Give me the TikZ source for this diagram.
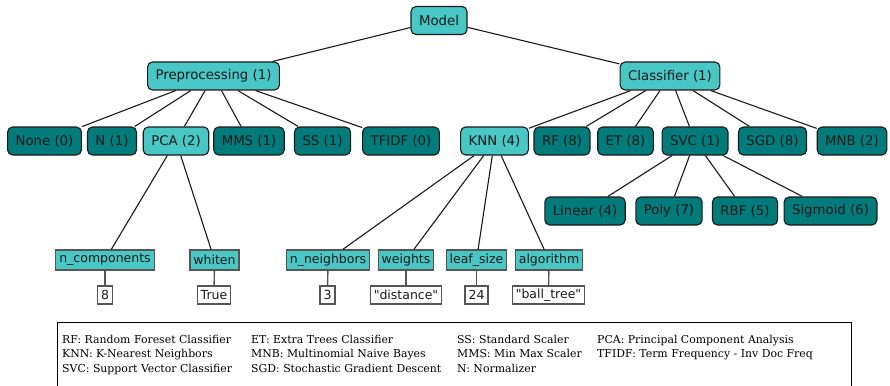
\documentclass[tikz,border=0pt]{standalone}
\usepackage{fontspec}
\setmainfont{DejaVu Serif}
\setsansfont{DejaVu Sans}
\usetikzlibrary{positioning}
\definecolor{lightteal}{HTML}{48C7C5}
\definecolor{darkteal}{HTML}{037B7B}
\definecolor{inkgrey}{HTML}{1A1A1A}
\definecolor{stemgrey}{HTML}{555555}

\begin{document}
\begin{tikzpicture}[x=1pt, y=-1pt,
    open/.style={draw=inkgrey, fill=lightteal, rounded corners=5pt, line width=1.1pt,
                 minimum height=28pt, inner xsep=8pt, text=inkgrey,
                 font=\sffamily\fontsize{13.3}{14}\selectfont},
    closed/.style={open, fill=darkteal},
    param/.style={draw=stemgrey, fill=lightteal, line width=1.2pt, minimum height=20pt,
                  inner xsep=3.5pt, inner ysep=0pt, text=inkgrey,
                  font=\sffamily\fontsize{12.5}{13}\selectfont},
    value/.style={param, fill=white, minimum height=18pt},
    link/.style={line width=1.1pt, inkgrey},
    stem/.style={line width=1.4pt, stemgrey},
    legend/.style={anchor=base west, inner sep=0pt, font=\fontsize{10.9}{12}\selectfont}]
      \useasboundingbox (0, 0) rectangle (890, 385);
      % tree
      \node (model) [open] at (439, 20.5) {Model};
      \node (prep) [open] at (213.5, 76) {Preprocessing (1)};
      \node (clf) [open] at (670, 76) {Classifier (1)};
      \node (none) [closed] at (44.5, 141) {None (0)};
      \node (norm) [closed] at (112, 141) {N (1)};
      \node (pca) [open] at (176, 141) {PCA (2)};
      \node (mms) [closed] at (249, 141) {MMS (1)};
      \node (ss) [closed] at (322.5, 141) {SS (1)};
      \node (tfidf) [closed] at (401, 141) {TFIDF (0)};
      \node (knn) [open] at (494.5, 141) {KNN (4)};
      \node (rf) [closed] at (562, 141) {RF (8)};
      \node (et) [closed] at (625.5, 141) {ET (8)};
      \node (svc) [closed] at (695, 141) {SVC (1)};
      \node (sgd) [closed] at (772.5, 141) {SGD (8)};
      \node (mnb) [closed] at (852, 141) {MNB (2)};
      \node (linear) [closed] at (585, 211) {Linear (4)};
      \node (poly) [closed] at (669, 211) {Poly (7)};
      \node (rbf) [closed] at (745, 211) {RBF (5)};
      \node (sigmoid) [closed] at (830.5, 211) {Sigmoid (6)};
      % hyper parameters
      \node (ncomp) [param] at (105, 260) {n\_components};
      \node (whiten) [param] at (214.5, 260) {whiten};
      \node (nneigh) [param] at (328, 260) {n\_neighbors};
      \node (weights) [param] at (406, 260) {weights};
      \node (leaf) [param] at (476.5, 260) {leaf\_size};
      \node (algo) [param] at (549, 260) {algorithm};
      \node (ncompval) [value] at (105, 295) {8};
      \node (whitenval) [value] at (214, 295) {True};
      \node (nneighval) [value] at (327.5, 295) {3};
      \node (weightsval) [value] at (406, 295) {\textquotedbl distance\textquotedbl};
      \node (leafval) [value] at (476.5, 295) {24};
      \node (algoval) [value] at (548.5, 295) {\textquotedbl ball\_tree\textquotedbl};
      \draw [link] (model) -- (prep)  (model) -- (clf);
      \foreach \kid in {none, norm, pca, mms, ss, tfidf}
            \draw [link] (prep) -- (\kid);
      \foreach \kid in {knn, rf, et, svc, sgd, mnb}
            \draw [link] (clf) -- (\kid);
      \foreach \kid in {linear, poly, rbf, sigmoid}
            \draw [link] (svc) -- (\kid);
      \draw [link] (pca) -- (ncomp)  (pca) -- (whiten);
      \foreach \kid in {nneigh, weights, leaf, algo}
            \draw [link] (knn) -- (\kid);
      \foreach \p in {ncomp, whiten, nneigh, weights, leaf, algo}
            \draw [stem] (\p) -- (\p val);
      % legend
      \draw [line width=0.9pt] (57, 386) -- (57, 322) -- (851, 322) -- (851, 386);
      \node (rfkey) [legend] at (62, 343) {RF: Random Foreset Classifier};
      \node (knnkey) [legend] at (62, 357.5) {KNN: K-Nearest Neighbors};
      \node (svckey) [legend] at (62, 372) {SVC: Support Vector Classifier};
      \node (etkey) [legend] at (251, 343) {ET: Extra Trees Classifier};
      \node (mnbkey) [legend] at (251, 357.5) {MNB: Multinomial Naive Bayes};
      \node (sgdkey) [legend] at (251, 372) {SGD: Stochastic Gradient Descent};
      \node (sskey) [legend] at (457, 343) {SS: Standard Scaler};
      \node (mmskey) [legend] at (457, 357.5) {MMS: Min Max Scaler};
      \node (nkey) [legend] at (457, 372) {N: Normalizer};
      \node (pcakey) [legend] at (597, 343) {PCA: Principal Component Analysis};
      \node (tfidfkey) [legend] at (597, 357.5) {TFIDF: Term Frequency - Inv Doc Freq};
\end{tikzpicture}
\end{document}
